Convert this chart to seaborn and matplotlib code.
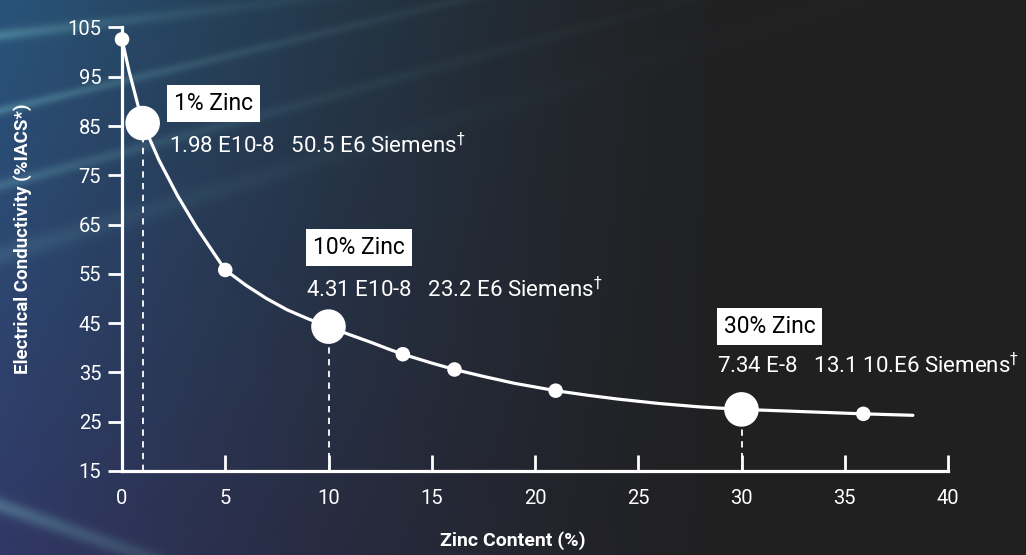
import numpy as np
import pandas as pd
import matplotlib
matplotlib.use("Agg")
import matplotlib.pyplot as plt
import seaborn as sns

# curve of conductivity vs zinc content
zinc_curve = [0, 0.35, 0.7, 1, 1.8, 2.7, 3.6, 4.4, 5, 6, 7, 8, 9, 10, 11, 12, 13,
              13.6, 15, 16.1, 17.5, 19, 21, 22.5, 24, 26, 28, 30, 32, 35.9, 38.3]
cond_curve = [102.6, 96.0, 90.4, 85.6, 78.0, 70.8, 64.5, 59.5, 55.8, 52.7, 50.0,
              47.7, 45.9, 44.3, 42.7, 41.2, 39.6, 38.7, 36.9, 35.6, 34.2, 32.8,
              31.3, 30.4, 29.6, 28.7, 28.0, 27.5, 27.2, 26.6, 26.3]

# small marker points
zinc_small = [0, 5, 13.6, 16.1, 21, 35.9]
cond_small = [102.6, 55.8, 38.7, 35.6, 31.3, 26.6]

# highlighted alloys
zinc_big = [1, 10, 30]
cond_big = [85.6, 44.3, 27.5]
big_titles = ["1% Zinc", "10% Zinc", "30% Zinc"]
big_details = ["1.98 E10-8   50.5 E6 Siemens$^{\\dagger}$",
               "4.31 E10-8   23.2 E6 Siemens$^{\\dagger}$",
               "7.34 E-8   13.1 10.E6 Siemens$^{\\dagger}$"]
# where the labels go (data coords)
title_pos = [(2.5, 89.6), (9.25, 60.3), (29.13, 44.3)]
detail_pos = [(2.28, 79.5), (8.91, 50.3), (28.8, 34.8)]

x_ticks = [0, 5, 10, 15, 20, 25, 30, 35, 40]
y_ticks = [15, 25, 35, 45, 55, 65, 75, 85, 95, 105]

sns.set_style("ticks")
plt.rcParams['font.family'] = ['Roboto', 'DejaVu Sans']
plt.rcParams['mathtext.fontset'] = 'dejavusans'

fig = plt.figure(figsize=(10.26, 5.55), dpi=100)

# background: dark with a blue glow and light streaks on the left
H, W = 555, 1026
yy, xx = np.mgrid[0:H, 0:W].astype(float)
dark = np.array([0.128, 0.128, 0.132])
top_blue = np.array([0.16, 0.33, 0.48])
low_blue = np.array([0.19, 0.22, 0.40])
t = (yy / H)[..., None]
blue = top_blue * (1 - t) + low_blue * t
w = (np.clip(1 - xx / 720, 0, 1) ** 1.3)[..., None]
bg = dark * (1 - w) + blue * w
streak_col = np.array([0.55, 0.85, 0.85])
streaks = [(35, -0.12, 0.30, 6, 160), (110, -0.24, 0.28, 5, 260),
           (185, -0.27, 0.22, 6, 260), (255, -0.30, 0.12, 10, 260),
           (505, 0.35, 0.30, 8, 200)]
for y0, slope, amp, width, fade in streaks:
    d = np.abs(yy - (y0 + slope * xx)) / np.sqrt(1 + slope ** 2)
    a = (amp * np.exp(-(d / width) ** 2) * np.exp(-xx / fade))[..., None]
    bg = bg * (1 - a) + streak_col * a
bg_ax = fig.add_axes([0, 0, 1, 1], zorder=-1)
bg_ax.imshow(np.clip(bg, 0, 1), aspect='auto', extent=[0, 1, 0, 1])
bg_ax.axis('off')

ax = fig.add_axes([122 / 1026, 1 - 471 / 555, 826 / 1026, 443.5 / 555])
ax.set_facecolor('none')

curve = pd.DataFrame({"zinc": zinc_curve, "cond": cond_curve})
sns.lineplot(data=curve, x="zinc", y="cond", sort=False, estimator=None,
             color='white', linewidth=2.3, ax=ax, clip_on=False, zorder=3)
sns.scatterplot(x=zinc_small, y=cond_small, s=110, color='white',
                edgecolor='none', ax=ax, clip_on=False, zorder=4)
sns.scatterplot(x=zinc_big, y=cond_big, s=620, color='white',
                edgecolor='none', ax=ax, clip_on=False, zorder=5)

for xb, yb in zip(zinc_big, cond_big):
    ax.vlines(xb, 15, yb, colors='white', linestyles=(0, (3.5, 3)),
              linewidth=1.3, zorder=2)

for title, (tx, ty) in zip(big_titles, title_pos):
    ax.text(tx, ty, title, ha='left', va='center', fontsize=16.5,
            color='black', zorder=6,
            bbox=dict(boxstyle='square,pad=0.3', facecolor='white',
                      edgecolor='none'))
for det, (dx, dy) in zip(big_details, detail_pos):
    ax.text(dx, dy, det, ha='left', va='baseline', fontsize=16,
            color='white', zorder=6)

ax.set_xlim(0, 40)
ax.set_ylim(15, 105)
ax.set_xticks(x_ticks)
ax.set_yticks(y_ticks)
ax.set_xticklabels([str(v) for v in x_ticks])
ax.set_yticklabels([str(v) for v in y_ticks])
sns.despine(ax=ax)
for side in ['left', 'bottom']:
    ax.spines[side].set_color('white')
    ax.spines[side].set_linewidth(2.3)
ax.tick_params(axis='x', direction='in', length=11.5, width=2, colors='white',
               labelsize=14.5, pad=13)
ax.tick_params(axis='y', direction='out', length=10, width=2, colors='white',
               labelsize=14.5, pad=5)

ax.set_xlabel("Zinc Content (%)", fontsize=14, fontweight='bold', color='white')
ax.set_ylabel("Electrical Conductivity (%IACS*)", fontsize=13.5,
              fontweight='bold', color='white', va='center')
ax.xaxis.set_label_coords((513 - 122) / 826, (471 - 531) / 443.5)
ax.yaxis.set_label_coords((23 - 122) / 826, (471 - 239) / 443.5)

fig.savefig("out.png", dpi=100)
